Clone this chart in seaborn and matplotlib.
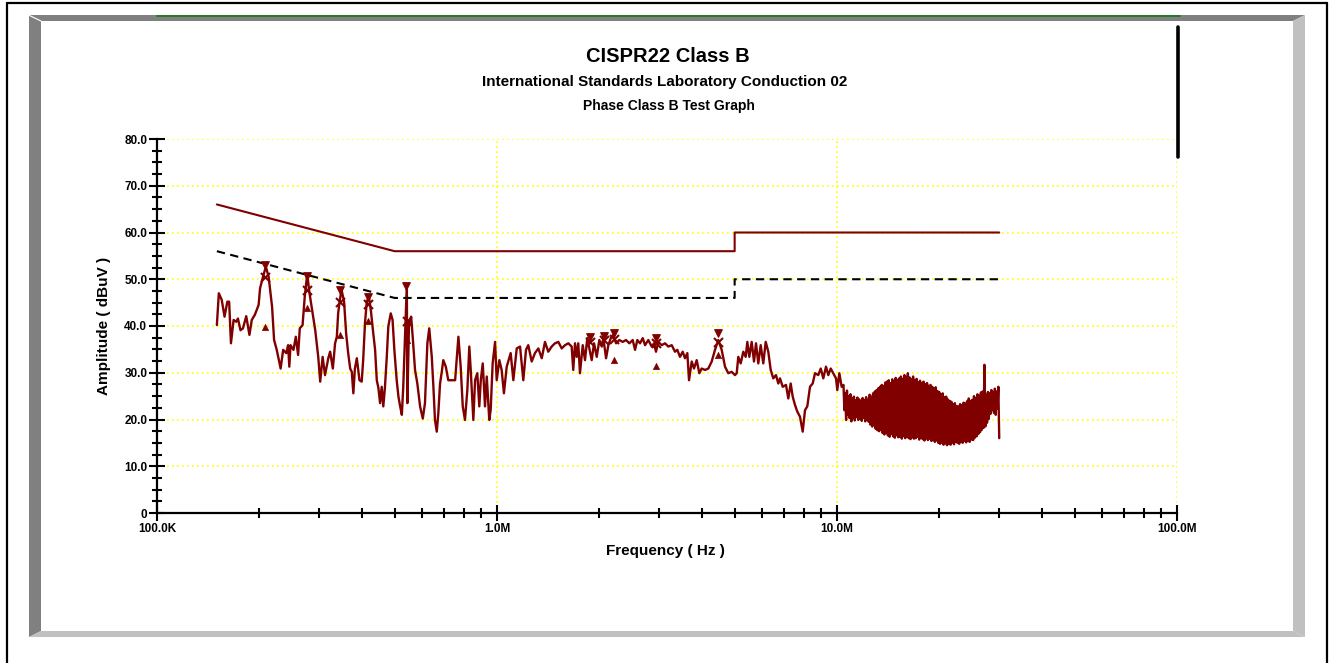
import numpy as np
import matplotlib
matplotlib.use("Agg")
import matplotlib.pyplot as plt
from matplotlib.lines import Line2D
from matplotlib.patches import Polygon
from matplotlib.ticker import FixedLocator, NullFormatter, MultipleLocator
import pandas as pd
import seaborn as sns

# ---------------- data ----------------
title_main = "CISPR22 Class B"
title_sub1 = "International Standards Laboratory Conduction 02"
title_sub2 = "Phase Class B Test Graph"
x_label = "Frequency ( Hz )"
y_label = "Amplitude ( dBuV )"

x_tick_vals = [1e5, 1e6, 1e7, 1e8]
x_tick_labels = ["100.0K", "1.0M", "10.0M", "100.0M"]
y_tick_vals = [0, 10, 20, 30, 40, 50, 60, 70, 80]
y_tick_labels = ["0", "10.0", "20.0", "30.0", "40.0", "50.0", "60.0", "70.0", "80.0"]

# limit lines (MHz, dBuV)
lim_freq_mhz = [0.15, 0.5, 5.0, 5.0, 30.0]
qp_limit = [66.0, 56.0, 56.0, 60.0, 60.0]
avg_limit = [56.0, 46.0, 46.0, 50.0, 50.0]

# measured trace (MHz, dBuV)
trace_freq_mhz = [
    0.150, 0.152, 0.155, 0.158, 0.161, 0.163, 0.165, 0.168, 0.171, 0.173,
    0.176, 0.179, 0.183, 0.187, 0.190, 0.194, 0.199, 0.201, 0.205, 0.209,
    0.213, 0.218, 0.221, 0.225, 0.231, 0.235, 0.240, 0.243, 0.245, 0.247,
    0.252, 0.256, 0.260, 0.263, 0.268, 0.272, 0.276, 0.277, 0.280, 0.285,
    0.292, 0.298, 0.302, 0.307, 0.312, 0.319, 0.323, 0.329, 0.334, 0.338,
    0.341, 0.345, 0.349, 0.355, 0.360, 0.365, 0.370, 0.374, 0.378, 0.382,
    0.387, 0.394, 0.400, 0.404, 0.409, 0.414, 0.420, 0.426, 0.431, 0.438,
    0.443, 0.448, 0.453, 0.458, 0.463, 0.468, 0.474, 0.479, 0.487, 0.493,
    0.499, 0.507, 0.513, 0.519, 0.525, 0.530, 0.536, 0.543, 0.545, 0.551,
    0.559, 0.565, 0.574, 0.583, 0.594, 0.605, 0.614, 0.624, 0.632, 0.643,
    0.650, 0.657, 0.665, 0.672, 0.680, 0.688, 0.695, 0.707, 0.719, 0.753,
    0.770, 0.782, 0.793, 0.805, 0.818, 0.829, 0.837, 0.852, 0.862, 0.875,
    0.887, 0.896, 0.908, 0.922, 0.933, 0.949, 0.958, 0.971, 0.987, 0.998,
    1.016, 1.032, 1.048, 1.068, 1.097, 1.117, 1.143, 1.169, 1.195, 1.217,
    1.236, 1.265, 1.293, 1.323, 1.354, 1.384, 1.415, 1.448, 1.481, 1.515,
    1.550, 1.585, 1.621, 1.658, 1.676, 1.696, 1.715, 1.734, 1.754, 1.787,
    1.815, 1.843, 1.877, 1.899, 1.929, 1.965, 2.000, 2.033, 2.055, 2.093,
    2.126, 2.161, 2.199, 2.239, 2.290, 2.343, 2.396, 2.450, 2.507, 2.547,
    2.587, 2.634, 2.683, 2.725, 2.786, 2.851, 2.896, 2.935, 2.981, 3.051,
    3.120, 3.190, 3.265, 3.338, 3.391, 3.453, 3.517, 3.572, 3.629, 3.671,
    3.738, 3.797, 3.867, 3.936, 4.000, 4.090, 4.183, 4.280, 4.377, 4.476,
    4.580, 4.684, 4.789, 4.901, 5.012, 5.070, 5.125, 5.209, 5.302, 5.388,
    5.448, 5.522, 5.612, 5.700, 5.778, 5.868, 5.965, 6.070, 6.170, 6.279,
    6.383, 6.495, 6.615, 6.720, 6.798, 6.923, 7.079, 7.191, 7.308, 7.408,
    7.525, 7.641, 7.783, 7.927, 8.052, 8.177, 8.329, 8.482, 8.617, 8.810,
    8.957, 9.115, 9.282, 9.428, 9.584, 9.752, 9.933, 10.02, 10.16, 10.32,
]
trace_dbuv = [
    40.2, 47.0, 45.6, 42.0, 45.2, 45.2, 36.3, 41.3, 40.9, 41.6,
    39.1, 39.5, 42.1, 38.1, 41.3, 42.4, 44.5, 48.1, 50.5, 52.7,
    50.5, 44.1, 37.0, 34.9, 30.9, 34.9, 34.2, 35.9, 31.3, 35.9,
    34.9, 37.7, 33.8, 39.5, 40.2, 46.3, 50.5, 50.9, 47.7, 44.1,
    39.1, 33.4, 28.1, 33.4, 29.5, 33.1, 34.5, 30.9, 36.3, 37.7,
    42.7, 45.6, 47.7, 45.2, 38.4, 34.2, 30.9, 30.2, 25.6, 30.9,
    33.1, 28.4, 28.1, 32.7, 40.6, 45.2, 46.3, 43.1, 39.5, 34.9,
    28.4, 26.7, 23.5, 27.0, 22.8, 26.7, 33.4, 39.9, 42.7, 41.3,
    34.9, 28.4, 24.9, 22.8, 21.0, 27.0, 37.0, 48.8, 23.5, 40.6,
    42.0, 37.7, 30.6, 27.7, 22.8, 20.2, 23.5, 36.3, 39.5, 33.4,
    27.0, 19.9, 17.4, 21.3, 27.7, 30.2, 32.7, 31.3, 28.4, 28.4,
    37.7, 31.3, 22.8, 19.9, 26.3, 35.6, 30.6, 19.9, 28.4, 29.9,
    22.8, 28.4, 32.0, 22.8, 29.2, 19.9, 22.0, 32.0, 36.6, 28.4,
    32.7, 30.6, 25.6, 31.3, 34.2, 28.4, 35.2, 35.6, 28.4, 34.9,
    35.9, 32.4, 34.2, 35.2, 33.1, 36.6, 34.5, 35.6, 36.3, 36.6,
    35.2, 35.9, 36.3, 35.6, 30.6, 36.3, 33.4, 36.3, 29.9, 35.9,
    32.7, 37.4, 34.5, 32.7, 36.3, 33.4, 37.0, 35.6, 37.4, 33.1,
    35.9, 37.4, 38.1, 36.3, 37.0, 36.6, 37.0, 36.3, 37.0, 34.9,
    37.0, 36.3, 37.4, 35.9, 37.0, 35.6, 36.3, 34.5, 36.6, 35.9,
    36.3, 35.6, 35.9, 34.5, 34.9, 33.4, 34.5, 33.1, 34.2, 28.4,
    32.4, 30.9, 32.7, 29.9, 30.9, 30.6, 30.9, 32.4, 34.9, 37.0,
    34.9, 31.3, 29.9, 30.2, 29.5, 29.9, 33.4, 32.0, 34.5, 33.4,
    36.6, 33.4, 36.6, 32.4, 36.3, 32.0, 35.9, 32.0, 36.6, 34.5,
    30.6, 28.8, 29.5, 27.7, 28.8, 27.0, 27.4, 24.5, 27.7, 24.9,
    23.1, 21.7, 20.6, 17.4, 22.0, 22.8, 27.0, 27.7, 29.9, 29.5,
    30.9, 28.8, 31.3, 29.5, 30.9, 29.9, 28.8, 26.3, 29.9, 27.0,
]
# dense sweep section 10.45 MHz .. 30 MHz (alternating high/low readings)
band_start_mhz = 10.45
band_stop_mhz = 30.0
band_dbuv = [
    27.4, 22.0, 25.6, 19.9, 26.2, 21.0, 25.0, 20.3, 25.4, 19.6,
    24.6, 20.4, 24.9, 19.8, 24.1, 20.5, 24.7, 19.9, 24.3, 20.1,
    24.0, 19.7, 24.6, 20.3, 24.2, 19.6, 24.8, 19.9, 24.2, 19.5,
    25.3, 18.9, 24.9, 18.5, 25.6, 18.8, 26.0, 18.0, 26.3, 17.7,
    26.7, 17.5, 27.0, 17.9, 27.4, 17.1, 27.2, 16.8, 27.9, 17.2,
    28.1, 16.6, 28.4, 16.3, 27.8, 16.9, 28.6, 16.4, 28.2, 16.1,
    28.9, 16.6, 28.5, 16.2, 28.8, 16.3, 29.2, 15.9, 28.7, 16.4,
    29.5, 16.0, 29.1, 16.3, 29.9, 16.0, 29.0, 15.8, 28.6, 16.2,
    29.2, 15.9, 28.4, 16.0, 28.7, 16.3, 28.0, 15.7, 28.3, 16.1,
    27.7, 15.8, 28.1, 15.5, 27.5, 16.0, 27.8, 15.6, 27.2, 15.9,
    27.4, 15.4, 27.0, 15.6, 26.6, 15.2, 26.9, 15.5, 26.1, 15.0,
    25.9, 14.8, 25.4, 15.1, 25.6, 14.6, 24.8, 14.9, 24.9, 14.5,
    24.3, 14.8, 24.0, 14.6, 23.8, 15.1, 23.2, 14.7, 23.5, 15.2,
    22.9, 15.0, 22.8, 14.8, 23.3, 15.3, 23.0, 15.0, 23.6, 15.4,
    23.4, 15.1, 23.9, 15.5, 24.5, 15.2, 24.0, 15.7, 24.2, 15.6,
    25.0, 16.1, 24.6, 16.4, 25.4, 16.9, 25.1, 17.3, 25.8, 17.8,
    26.0, 18.2, 31.7, 18.5, 25.3, 19.3, 25.9, 20.1, 25.6, 21.2,
    26.3, 22.0, 25.8, 21.4, 26.6, 21.0, 26.0, 22.3, 27.0, 16.0,
]

# markers (MHz, dBuV)
qp_mark_freq = [0.208, 0.277, 0.345, 0.417, 0.539, 1.88, 2.06, 2.21, 2.93, 4.48]
qp_mark_val = [53.0, 50.7, 47.7, 46.2, 48.6, 37.6, 37.8, 38.6, 37.4, 38.4]
pk_mark_freq = [0.208, 0.277, 0.345, 0.417, 0.545, 1.88, 2.06, 2.21, 2.93, 4.48]
pk_mark_val = [50.5, 47.7, 45.1, 44.7, 41.0, 36.6, 37.0, 37.2, 36.3, 36.5]
av_mark_freq = [0.208, 0.277, 0.345, 0.417, 0.545, 2.21, 2.93, 4.48]
av_mark_val = [39.8, 43.8, 38.1, 41.0, 37.0, 32.8, 31.5, 33.8]

if len(trace_freq_mhz) != len(trace_dbuv):
    raise SystemExit(f"length mismatch {len(trace_freq_mhz)} vs {len(trace_dbuv)}")

# ---------------- styling ----------------
sns.set_style("ticks", {"axes.edgecolor": "black", "text.color": "black",
                        "xtick.color": "black", "ytick.color": "black",
                        "axes.labelcolor": "black"})
plt.rcParams['font.family'] = ['Liberation Sans', 'DejaVu Sans']

DARKRED = "#800000"
W, H = 1333, 663
fig = plt.figure(figsize=(W / 100, H / 100), dpi=100)
fig.patch.set_facecolor("white")


def fx(px):
    return px / W


def fy(py):
    return 1 - py / H


def fpoly(pts, color):
    fig.patches.append(Polygon([(fx(a), fy(b)) for a, b in pts], closed=True,
                               facecolor=color, edgecolor="none",
                               transform=fig.transFigure, zorder=1))


# outer border
for xs, ys in [([7, 7], [3, 663]), ([1327, 1327], [3, 663]), ([7, 1327], [3, 3])]:
    fig.lines.append(Line2D([fx(v) for v in xs], [fy(v) for v in ys], lw=1.6,
                            color="black", transform=fig.transFigure))
# bevel frame
fpoly([(29, 15), (1305, 15), (1293, 21), (41, 21)], "#808080")
fpoly([(29, 15), (41, 21), (41, 631), (29, 637)], "#808080")
fpoly([(1305, 15), (1305, 637), (1293, 631), (1293, 21)], "#c0c0c0")
fpoly([(29, 637), (1305, 637), (1293, 631), (41, 631)], "#c0c0c0")
fig.lines.append(Line2D([fx(29.5), fx(41)], [fy(15.5), fy(21)], lw=0.8,
                        color="white", transform=fig.transFigure))
# green strip on top
fig.lines.append(Line2D([fx(157), fx(1180)], [fy(15.6), fy(15.6)], lw=1.3,
                        color="#1d7a1d", transform=fig.transFigure, zorder=3))

# ---------------- axes ----------------
ax = fig.add_axes([fx(157), fy(513), fx(1177) - fx(157), fy(139) - fy(513)])
ax.set_facecolor("none")

trace_df = pd.DataFrame({"f": np.array(trace_freq_mhz) * 1e6, "a": trace_dbuv})
band_df = pd.DataFrame({"f": np.geomspace(band_start_mhz, band_stop_mhz, len(band_dbuv)) * 1e6,
                        "a": band_dbuv})
full_df = pd.concat([trace_df, band_df], ignore_index=True)

sns.lineplot(data=full_df, x="f", y="a", ax=ax, color=DARKRED, lw=1.7,
             estimator=None, sort=False, zorder=4)
lim_f = np.array(lim_freq_mhz) * 1e6
sns.lineplot(x=lim_f, y=qp_limit, ax=ax, color=DARKRED, lw=1.5,
             estimator=None, sort=False, zorder=4)
ax.plot(lim_f, avg_limit, color="black", lw=1.5, linestyle=(0, (4, 2.6)), zorder=4)

sns.scatterplot(x=np.array(qp_mark_freq) * 1e6, y=qp_mark_val, ax=ax, marker="v",
                s=30, color=DARKRED, edgecolor=DARKRED, linewidth=0.8, zorder=5)
sns.scatterplot(x=np.array(pk_mark_freq) * 1e6, y=pk_mark_val, ax=ax, marker="x",
                s=42, color=DARKRED, linewidth=1.5, zorder=5)
sns.scatterplot(x=np.array(av_mark_freq) * 1e6, y=av_mark_val, ax=ax, marker="^",
                s=20, color=DARKRED, edgecolor=DARKRED, linewidth=0.5, zorder=5)

ax.set_xscale("log")
ax.set_xlim(1e5, 1e8)
ax.set_ylim(0, 80)
ax.set_xticks(x_tick_vals)
ax.set_xticklabels(x_tick_labels)
ax.xaxis.set_minor_locator(FixedLocator([m * 10 ** e for e in range(5, 8) for m in range(2, 10)]))
ax.xaxis.set_minor_formatter(NullFormatter())
ax.set_yticks(y_tick_vals)
ax.set_yticklabels(y_tick_labels)
ax.yaxis.set_minor_locator(MultipleLocator(2.5))

ax.tick_params(which="both", bottom=True, left=True, top=False, right=False)
ax.tick_params(which="major", direction="inout", length=11, width=1.5,
               labelsize=8.5, pad=1.5, color="black", labelcolor="black")
ax.tick_params(which="minor", direction="inout", length=6.5, width=1.5, color="black")
for lab in ax.get_xticklabels() + ax.get_yticklabels():
    lab.set_fontweight("bold")

for s in ["top", "right"]:
    ax.spines[s].set_visible(False)
for s in ["left", "bottom"]:
    ax.spines[s].set_linewidth(1.6)
    ax.spines[s].set_color("black")
    ax.spines[s].set_zorder(6)

ax.grid(True, which="major", color="#ffff00", linestyle=(0, (1, 2)), linewidth=1.2, zorder=0)
ax.set_axisbelow(True)
ax.set_xlabel("")
ax.set_ylabel("")

# texts
fig.text(fx(668), fy(56), title_main, ha="center", va="center", fontsize=14.5,
         fontweight="bold", color="black")
fig.text(fx(665), fy(82), title_sub1, ha="center", va="center", fontsize=11,
         fontweight="bold", color="black")
fig.text(fx(669), fy(106), title_sub2, ha="center", va="center", fontsize=10,
         fontweight="bold", color="black")
fig.text(fx(665), fy(551), x_label, ha="center", va="center", fontsize=11,
         fontweight="bold", color="black")
fig.text(fx(104), fy(326), y_label, ha="center", va="center", rotation=90, fontsize=11,
         fontweight="bold", color="black")

# black bar at the right
fig.lines.append(Line2D([fx(1178), fx(1178)], [fy(27), fy(157)], lw=2.6, color="black",
                        solid_capstyle="round", transform=fig.transFigure, zorder=10))

fig.savefig("out.png", dpi=100)
